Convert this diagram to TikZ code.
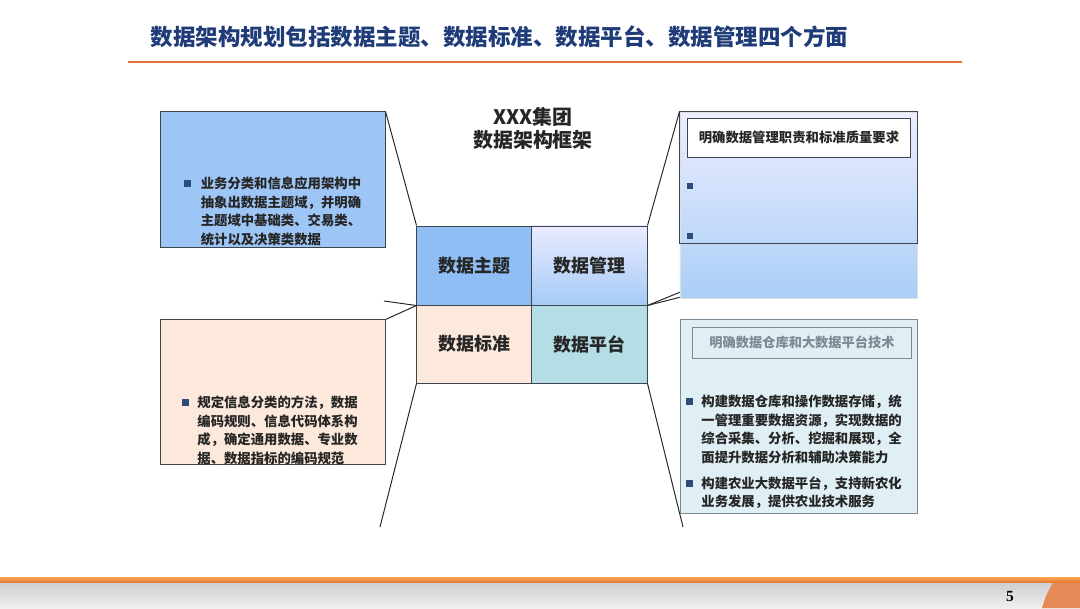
\documentclass[tikz,border=0pt]{standalone}
\usepackage{fontspec}
\setmainfont{Noto Sans CJK SC}
\newfontfamily\numfont{Liberation Serif}
\usetikzlibrary{positioning,calc}
\definecolor{ttlblue}{HTML}{1F3C78}
\definecolor{lineor}{HTML}{E0763A}
\definecolor{lblue}{HTML}{9DC6F7}
\definecolor{cellblue}{HTML}{8EBEF4}
\definecolor{peach}{HTML}{FCE9DC}
\definecolor{cellteal}{HTML}{B5DDE5}
\definecolor{paleteal}{HTML}{DFEFF4}
\definecolor{bulblue}{HTML}{2E4B7A}
\definecolor{edgegray}{HTML}{3C444C}
\definecolor{softgray}{HTML}{7C8A96}
\newcommand{\bul}{\textcolor{bulblue}{\rule[0.12em]{0.5em}{0.5em}}}
\tikzset{
  blk/.style={draw=edgegray,line width=0.7pt,rectangle,inner sep=0pt},
  cell/.style={blk,minimum width=2.875cm,minimum height=1.975cm,font=\fontsize{12.8}{14}\selectfont\bfseries,text=black!85},
  txt/.style={anchor=north west,inner sep=0pt,font=\fontsize{9.5}{13.3}\selectfont\bfseries,text=black!85},
  bulsq/.style={fill=bulblue,minimum size=4.8pt,inner sep=0pt},
  lnk/.style={line width=0.7pt,black!85}
}

\begin{document}
\begin{tikzpicture}[x=0.025cm,y=-0.025cm]
  \useasboundingbox (0,0) rectangle (1080,608);

  \node[anchor=west,text=ttlblue,font=\fontsize{16}{18}\selectfont\bfseries] (title) at (146,37) {数据架构规划包括数据主题、数据标准、数据平台、数据管理四个方面};
  \draw[lineor,line width=1.6pt] (128,62) -- (962,62);

  \node[blk,fill=lblue,minimum width=5.6cm,minimum height=3.375cm] (subj) at (273,179.5) {};
  \node[txt] (subjt) at (184,175) {\begin{tabular}{@{}l@{\hspace{7pt}}l@{}}
    \bul & 业务分类和信息应用架构中\\
         & 抽象出数据主题域，并明确\\
         & 主题域中基础类、交易类、\\
         & 统计以及决策类数据
  \end{tabular}};

  \node[blk,fill=peach,minimum width=5.6cm,minimum height=3.6cm] (std) at (273,392) {};
  \node[txt] (stdt) at (182,394) {\begin{tabular}{@{}l@{\hspace{6pt}}l@{}}
    \bul & 规定信息分类的方法，数据\\
         & 编码规则、信息代码体系构\\
         & 成，确定通用数据、专业数\\
         & 据、数据指标的编码规范
  \end{tabular}};

  \node[font=\fontsize{14.2}{16.4}\selectfont\bfseries,align=center,text=black!85] (head) at (533,128) {XXX集团\\数据架构框架};

  \node[cell,fill=cellblue] (c1) at (474.5,265.5) {数据主题};
  \node[cell,top color=blue!8,bottom color=cellblue!80,draw=edgegray] (c2) at (589.5,265.5) {数据管理};
  \node[cell,fill=peach,minimum height=1.95cm] (c3) at (474.5,344) {数据标准};
  \node[cell,fill=cellteal,minimum height=1.95cm] (c4) at (589.5,344) {数据平台};

  \node[rectangle,inner sep=0pt,draw=gray!25,top color=blue!7,bottom color=cellblue!75,minimum width=5.925cm,minimum height=4.65cm] (mgmt) at (798.5,205) {};
  \node[blk,minimum width=5.925cm,minimum height=3.275cm] (mgmtf) at (798.5,177.5) {};
  \node[blk,fill=white,minimum width=5.55cm,minimum height=0.975cm,font=\fontsize{9.5}{11}\selectfont\bfseries,text=black!85] (mgmth) at (799,137.5) {明确数据管理职责和标准质量要求};
  \node[bulsq] (mb1) at (690,186) {};
  \node[bulsq] (mb2) at (690,236) {};

  \node[blk,draw=softgray,fill=paleteal,minimum width=5.9cm,minimum height=4.825cm] (plat) at (799,416.5) {};
  \node[blk,draw=softgray,minimum width=5.45cm,minimum height=0.775cm,font=\fontsize{9.4}{11}\selectfont\bfseries,text=softgray] (plath) at (802,342.5) {明确数据仓库和大数据平台技术};
  \node[txt] (platt) at (686,393) {\begin{tabular}{@{}l@{\hspace{6pt}}l@{}}
    \bul & 构建数据仓库和操作数据存储，统\\
         & 一管理重要数据资源，实现数据的\\
         & 综合采集、分析、挖掘和展现，全\\
         & 面提升数据分析和辅助决策能力\\[5pt]
    \bul & 构建农业大数据平台，支持新农化\\
         & 业务发展，提供农业技术服务
  \end{tabular}};

  \coordinate (lfree) at (384,301);
  \coordinate (ldown) at (380,527);
  \coordinate (rdown) at (683,527);
  \draw[lnk] (subj.north east) -- (c1.north west);
  \draw[lnk] (lfree) -- (c1.south west);
  \draw[lnk] (std.north east) -- (c1.south west);
  \draw[lnk] (c3.south west) -- (ldown);
  \draw[lnk] (mgmtf.north west) -- (c2.north east);
  \draw[lnk] (c2.south east) -- ($(mgmt.south west)+(0,-6)$);
  \draw[lnk] (c2.south east) -- ($(mgmt.south west)+(0,-1)$);
  \draw[lnk] (c4.south east) -- (rdown);

  \shade[top color=orange!70,bottom color=lineor] (0,577) rectangle (1080,583);
  \shade[top color=gray!38,bottom color=gray!12] (0,583) rectangle (1080,608);
  \fill[lineor!85] (1053,583) to[bend right=8] (1042,608) -- (1080,608) -- (1080,583) -- cycle;
  \node[font=\numfont\bfseries\fontsize{11}{12}\selectfont] (pg) at (1010,596) {5};
\end{tikzpicture}
\end{document}
